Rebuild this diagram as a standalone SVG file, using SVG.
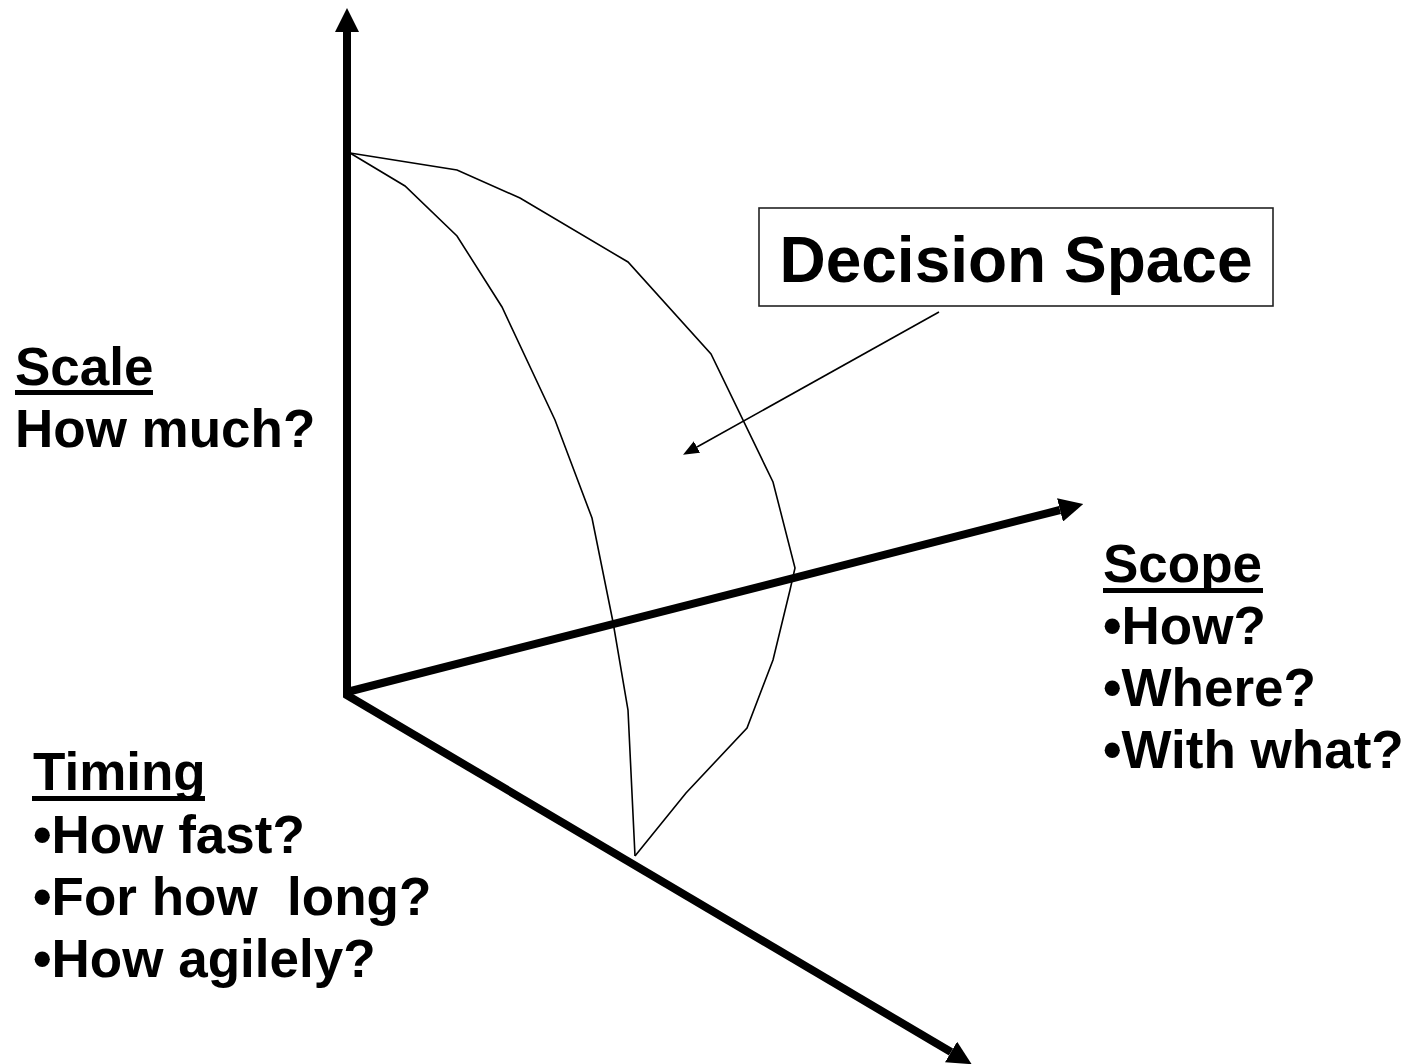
<svg xmlns="http://www.w3.org/2000/svg" width="1408" height="1064" viewBox="0 0 1408 1064">
<style>
.axis{stroke:#000;stroke-width:8;fill:none}
.thin{stroke:#000;stroke-width:1.6;fill:none;stroke-linejoin:miter}
.ul{stroke:#000;stroke-width:5}
.lbl{font-family:"Liberation Sans",Arial,sans-serif;font-weight:bold;font-size:53px;fill:#000}
.title{font-family:"Liberation Sans",Arial,sans-serif;font-weight:bold;font-size:64px;fill:#000}
</style>
<defs>
<marker id="big" markerUnits="userSpaceOnUse" viewBox="0 0 24 24" markerWidth="24" markerHeight="24" refX="0" refY="12" orient="auto">
<path d="M0,0 L24,12 L0,24 Z" fill="#000"/>
</marker>
<marker id="small" markerUnits="userSpaceOnUse" viewBox="0 0 16 13" markerWidth="16" markerHeight="13" refX="0" refY="6.5" orient="auto">
<path d="M0,0 L16,6.5 L0,13 Z" fill="#000"/>
</marker>
</defs>
<g id="connectors">
<line class="axis" x1="347" y1="697" x2="347" y2="32" marker-end="url(#big)"/>
<line class="axis" x1="347" y1="692" x2="1060" y2="510" marker-end="url(#big)"/>
<line class="axis" x1="345" y1="694" x2="951" y2="1052" marker-end="url(#big)"/>
<line class="thin" x1="939" y1="312" x2="697" y2="447" marker-end="url(#small)"/>
</g>
<g id="surface">
<polyline class="thin" points="350,153 405,186 457,236 502,307 555,420 592,518 613,622 628,710 635,856"/>
<polyline class="thin" points="350,153 457,170 520,198 628,262 711,354 773,482 795,568 790,590 773,660 747,728 686,793 635,856"/>
</g>
<g id="decision-space">
<rect x="759" y="208" width="514" height="98" fill="#fff" stroke="#222" stroke-width="1.6"/>
<text class="title" x="1016" y="282" text-anchor="middle">Decision Space</text>
</g>
<g id="scale-label">
<text class="lbl" x="15" y="385">Scale</text>
<line class="ul" x1="15" y1="392.5" x2="153" y2="392.5"/>
<text class="lbl" x="15" y="447">How much?</text>
</g>
<g id="scope-label">
<text class="lbl" x="1103" y="582">Scope</text>
<line class="ul" x1="1103" y1="590.5" x2="1263" y2="590.5"/>
<text class="lbl" x="1103" y="644">•How?</text>
<text class="lbl" x="1103" y="706">•Where?</text>
<text class="lbl" x="1103" y="768">•With what?</text>
</g>
<g id="timing-label">
<text class="lbl" x="33" y="790">Timing</text>
<line class="ul" x1="32" y1="798.5" x2="205" y2="798.5"/>
<text class="lbl" x="33" y="853">•How fast?</text>
<text class="lbl" x="33" y="915" xml:space="preserve">•For how  long?</text>
<text class="lbl" x="33" y="977">•How agilely?</text>
</g>
</svg>
